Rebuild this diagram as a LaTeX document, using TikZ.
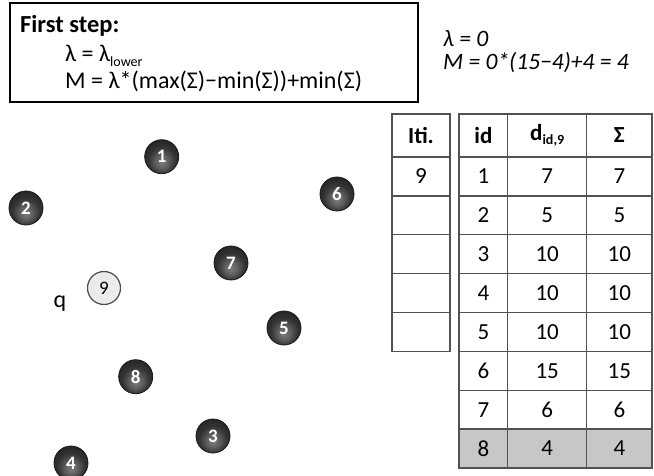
\documentclass[tikz,border=0pt]{standalone}
\usepackage{fontspec}
\setmainfont{Carlito}
\newcommand{\lowtxt}[1]{\raisebox{-.35ex}{\fontsize{14}{14}\selectfont #1}}
\pgfdeclareradialshading{sitegloss}{\pgfpoint{0bp}{-9bp}}{color(0bp)=(black!52); color(9bp)=(black!62); color(20bp)=(black!80); color(30bp)=(black!86); color(34bp)=(black!92); color(50bp)=(black!92)}

\begin{document}
\begin{tikzpicture}[x=1pt, y=-1pt,
  site/.style={circle, shading=sitegloss, draw=black!90, line width=.8pt, minimum size=34pt, inner sep=0pt, text=white, font=\fontsize{19}{19}\selectfont\bfseries},
  qsite/.style={circle, fill=black!8, draw=black!70, line width=1.2pt, minimum size=33pt, inner sep=0pt, font=\fontsize{19}{19}\selectfont},
  cell/.style={draw=black!68, line width=1.4pt, minimum height=38.9pt, inner sep=0pt, font=\fontsize{23}{23}\selectfont},
  head/.style={cell, minimum height=43pt, font=\fontsize{23}{23}\selectfont\bfseries},
  boxline/.style={anchor=base west, inner sep=0pt, font=\fontsize{24}{24}\selectfont},
  eqline/.style={anchor=base west, inner sep=0pt, font=\fontsize{23.5}{23.5}\selectfont\itshape}
]
  \useasboundingbox (0,0) rectangle (654,476);

  \node[draw, line width=2pt, minimum width=408pt, minimum height=99pt, inner sep=0pt] (stepbox) at (214,52.5) {};
  \node[boxline, font=\fontsize{24.5}{24.5}\selectfont\bfseries] (title) at (20,33) {First step:};
  \node[boxline] (lambda) at (65,62) {λ = λ\lowtxt{lower}};
  \node[boxline] (mrule) at (65,89) {M = λ*(max(Σ)−min(Σ))+min(Σ)};

  \node[eqline] (lamval) at (443,47) {λ = 0};
  \node[eqline] (mval) at (443,70) {M = 0*(15−4)+4 = 4};

  \foreach \n/\x/\y in {1/161.7/156.7, 2/26/208, 6/337/194, 7/231/263, 5/284/328, 8/135.7/376.7, 3/213/436, 4/71/463} {
    \node[site] (p\n) at (\x,\y) {\n};
  }
  \node[qsite] (p9) at (104,288) {9};
  \node[anchor=base, inner sep=0pt, font=\fontsize{24}{24}\selectfont] (qlabel) at (60,307) {q};

  \node[head, minimum width=58pt] (iti-0) at (421,135.5) {Iti.};
  \foreach \i/\v in {1/9,2/{},3/{},4/{},5/{}} {
    \node[cell, minimum width=58pt] (iti-\i) at (421,{157+(\i-.5)*38.875}) {\v};
  }

  \node[head, minimum width=48.7pt] (id-0) at (483.35,135.5) {id};
  \node[head, minimum width=79pt] (dist-0) at (547.2,135.5) {d\lowtxt{id,9}};
  \node[head, minimum width=65.3pt] (sum-0) at (619.35,135.5) {Σ};
  \foreach \i/\d/\s/\c in {1/7/7/white,2/5/5/white,3/10/10/white,4/10/10/white,5/10/10/white,6/15/15/white,7/6/6/white,8/4/4/black!22} {
    \node[cell, fill=\c, minimum width=48.7pt] (id-\i) at (483.35,{157+(\i-.5)*38.875}) {\i};
    \node[cell, fill=\c, minimum width=79pt] (dist-\i) at (547.2,{157+(\i-.5)*38.875}) {\d};
    \node[cell, fill=\c, minimum width=65.3pt] (sum-\i) at (619.35,{157+(\i-.5)*38.875}) {\s};
  }
\end{tikzpicture}
\end{document}
